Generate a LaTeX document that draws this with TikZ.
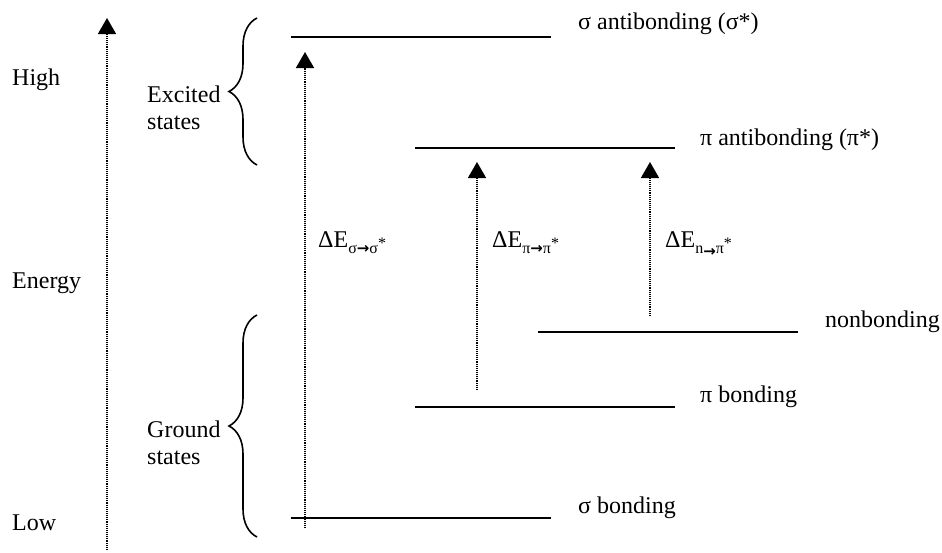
\documentclass[tikz,border=0pt]{standalone}
\usepackage{fontspec}
\setmainfont{Liberation Serif}
\newfontfamily\arrowfont{DejaVu Sans}
\usetikzlibrary{arrows.meta,decorations.pathreplacing}
\newcommand{\mysub}[1]{\raisebox{-6pt}{\fontsize{16}{16}\selectfont #1}}
\newcommand{\subarrow}{{\arrowfont\bfseries\fontsize{15}{15}\selectfont →}}
\begin{document}
\begin{tikzpicture}[x=1pt,y=-1pt,
  font=\fontsize{24}{27}\selectfont,
  level/.style={line width=1.6pt},
  darrow/.style={line width=1.6pt, dash pattern=on 1pt off 0.9pt, -{Triangle[length=16pt,width=18pt,sep=0pt]}},
  bracestyle/.style={line width=1.6pt, decorate, decoration={brace,amplitude=28pt}},
  lbl/.style={anchor=base west, inner sep=0pt},
  txt/.style={anchor=base west, inner sep=0pt, align=left}]
\useasboundingbox (0,0) rectangle (942,552);
% energy axis
\coordinate (ea) at (107,550);
\coordinate (eb) at (107,18);
\draw[darrow] (ea) -- (eb);
\node[txt] (high) at (12,85) {High};
\node[txt] (energy) at (12,288) {Energy};
\node[txt] (low) at (12,530) {Low};
% braces
\coordinate (b1a) at (257,165);
\coordinate (b1b) at (257,18);
\draw[bracestyle] (b1a) -- (b1b);
\coordinate (b2a) at (257,537);
\coordinate (b2b) at (257,315);
\draw[bracestyle] (b2a) -- (b2b);
\node[txt, anchor=west] (exc) at (147,108) {Excited\\states};
\node[txt, anchor=west] (gnd) at (147,443) {Ground\\states};
% levels
\coordinate (s1a) at (291,37); \coordinate (s1b) at (551,37);
\coordinate (p1a) at (415,148); \coordinate (p1b) at (675,148);
\coordinate (n1a) at (538,332); \coordinate (n1b) at (798,332);
\coordinate (p0a) at (415,407); \coordinate (p0b) at (675,407);
\coordinate (s0a) at (291,518); \coordinate (s0b) at (551,518);
\draw[level] (s1a) -- (s1b);
\draw[level] (p1a) -- (p1b);
\draw[level] (n1a) -- (n1b);
\draw[level] (p0a) -- (p0b);
\draw[level] (s0a) -- (s0b);
\node[lbl] (ls1) at (578,29) {σ antibonding (σ*)};
\node[lbl] (lp1) at (700,145) {π antibonding (π*)};
\node[lbl] (ln1) at (825,327) {nonbonding};
\node[lbl] (lp0) at (700,402) {π bonding};
\node[lbl] (ls0) at (578,513) {σ bonding};
% transitions
\coordinate (t1a) at (305,528); \coordinate (t1b) at (305,52);
\coordinate (t2a) at (477,390); \coordinate (t2b) at (477,162);
\coordinate (t3a) at (650,316); \coordinate (t3b) at (650,162);
\draw[darrow] (t1a) -- (t1b);
\draw[darrow] (t2a) -- (t2b);
\draw[darrow] (t3a) -- (t3b);
\node[lbl] (d1) at (318,247) {ΔE\mysub{σ\subarrow σ\raisebox{5pt}{*}}};
\node[lbl] (d2) at (492,247) {ΔE\mysub{π\subarrow π\raisebox{5pt}{*}}};
\node[lbl] (d3) at (665,247) {ΔE\mysub{n\raisebox{-3pt}{\subarrow}π\raisebox{5pt}{*}}};
\end{tikzpicture}
\end{document}
